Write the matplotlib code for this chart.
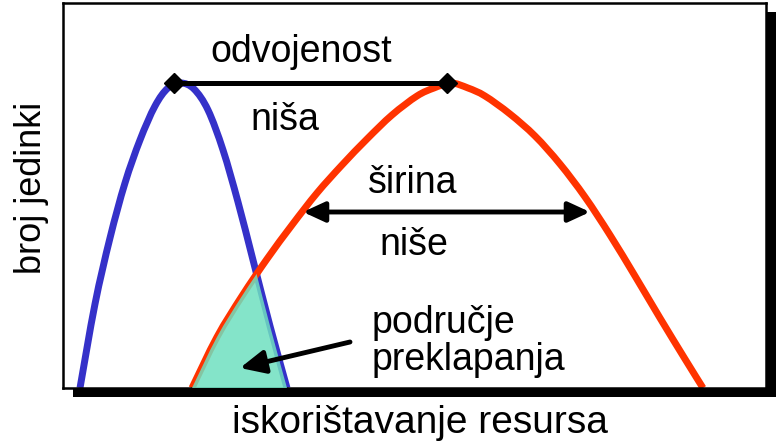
import numpy as np
import matplotlib
matplotlib.use("Agg")
import matplotlib.pyplot as plt
from matplotlib.path import Path
from matplotlib.patches import PathPatch, Rectangle
from matplotlib.transforms import ScaledTranslation

# podaci ocitani sa slike (x = iskoristavanje resursa, y = broj jedinki)
blue_x = [17, 32, 47, 62, 77, 92, 105, 118, 131, 145, 160, 175, 190, 207, 224]
blue_y = [0, 84, 150, 205, 248, 282, 300, 305, 299, 278, 238, 186, 128, 62, 0]
red_x = [129, 154, 179, 204, 229, 254, 279, 304, 329, 354, 371, 388,
         405, 422, 447, 472, 497, 522, 547, 572, 597, 622, 640]
red_y = [0, 51, 92, 129, 163, 195, 223, 249, 273, 292, 300, 305,
         300, 292, 274, 252, 224, 191, 153, 112, 70, 29, 0]

sep_x = [111, 384]          # odvojenost
sep_y = 305
width_x = [240, 527]        # sirina nise
width_y = 176
ovl_tail = (287, 46)
ovl_head = (177, 20)

lbl_x = "iskorištavanje resursa"
lbl_y = "broj jedinki"

plt.rcParams['font.family'] = ['Liberation Sans', 'DejaVu Sans']


def smooth_path(xs, ys, close=False):
    """Catmull-Rom kroz tocke -> bezier put."""
    p = np.column_stack([xs, ys]).astype(float)
    p_ext = np.vstack([p[0], p, p[-1]])
    verts = [p[0]]
    codes = [Path.MOVETO]
    for i in range(1, len(p_ext) - 2):
        c1 = p_ext[i] + (p_ext[i + 1] - p_ext[i - 1]) / 6
        c2 = p_ext[i + 1] - (p_ext[i + 2] - p_ext[i]) / 6
        verts += [c1, c2, p_ext[i + 1]]
        codes += [Path.CURVE4] * 3
    if close:
        verts.append(p[0])
        codes.append(Path.CLOSEPOLY)
    return Path(verts, codes)


fig = plt.figure(figsize=(7.78, 4.44), dpi=100)
ax = fig.add_axes([63 / 778, 56 / 444, 703 / 778, 385 / 444])
ax.set_xlim(0, 703)
ax.set_ylim(0, 385)
ax.set_xticks([])
ax.set_yticks([])
for s in ax.spines.values():
    s.set_linewidth(1.8)

# sjena okvira
off = ScaledTranslation(10 / 100, -9 / 100, fig.dpi_scale_trans)
fig.add_artist(Rectangle((0, 0), 1, 1, transform=ax.transAxes + off,
                         facecolor='black', edgecolor='none', zorder=-1))

blue_col = '#3531c9'
red_col = '#ff3300'

ax.add_patch(PathPatch(smooth_path(blue_x, blue_y), fill=False,
                       edgecolor=blue_col, lw=5, capstyle='butt', zorder=2))
ax.add_patch(PathPatch(smooth_path(red_x, red_y), fill=False,
                       edgecolor=red_col, lw=5, capstyle='butt', zorder=2))

# podrucje preklapanja
red_area = PathPatch(smooth_path(red_x, red_y, close=True), transform=ax.transData)
overlap = PathPatch(smooth_path(blue_x, blue_y, close=True), facecolor='#6fe0c0',
                    edgecolor='none', alpha=0.85, zorder=3)
ax.add_patch(overlap)
overlap.set_clip_path(red_area)

# odvojenost
ax.plot(sep_x, [sep_y, sep_y], color='black', lw=3.6,
        marker='D', ms=10, zorder=4)

# sirina nise
ax.annotate('', xy=(width_x[1], width_y), xytext=(width_x[0], width_y),
            arrowprops=dict(arrowstyle='<|-|>,head_length=0.65,head_width=0.3',
                            lw=3.5, color='black', mutation_scale=20,
                            shrinkA=0, shrinkB=0), zorder=4)

# strelica na preklapanje
ax.annotate('', xy=ovl_head, xytext=ovl_tail,
            arrowprops=dict(arrowstyle='-|>,head_length=0.75,head_width=0.35',
                            lw=3.5, color='black', mutation_scale=20,
                            shrinkA=0, shrinkB=0), zorder=4)

fs = 27
ax.text(238, 326, "odvojenost", fontsize=fs, ha='center', va='baseline')
ax.text(222, 258, "niša", fontsize=fs, ha='center', va='baseline')
ax.text(350, 195, "širina", fontsize=fs, ha='center', va='baseline')
ax.text(351, 133, "niše", fontsize=fs, ha='center', va='baseline')
ax.text(309, 55, "područje", fontsize=fs, ha='left', va='baseline')
ax.text(309, 18, "preklapanja", fontsize=fs, ha='left', va='baseline')

ax.text(357, -45, lbl_x, fontsize=28, ha='center', va='baseline')
ax.text(-31, 200, lbl_y, fontsize=26, ha='center', va='center', rotation=90)

fig.savefig("out.png", dpi=100)
